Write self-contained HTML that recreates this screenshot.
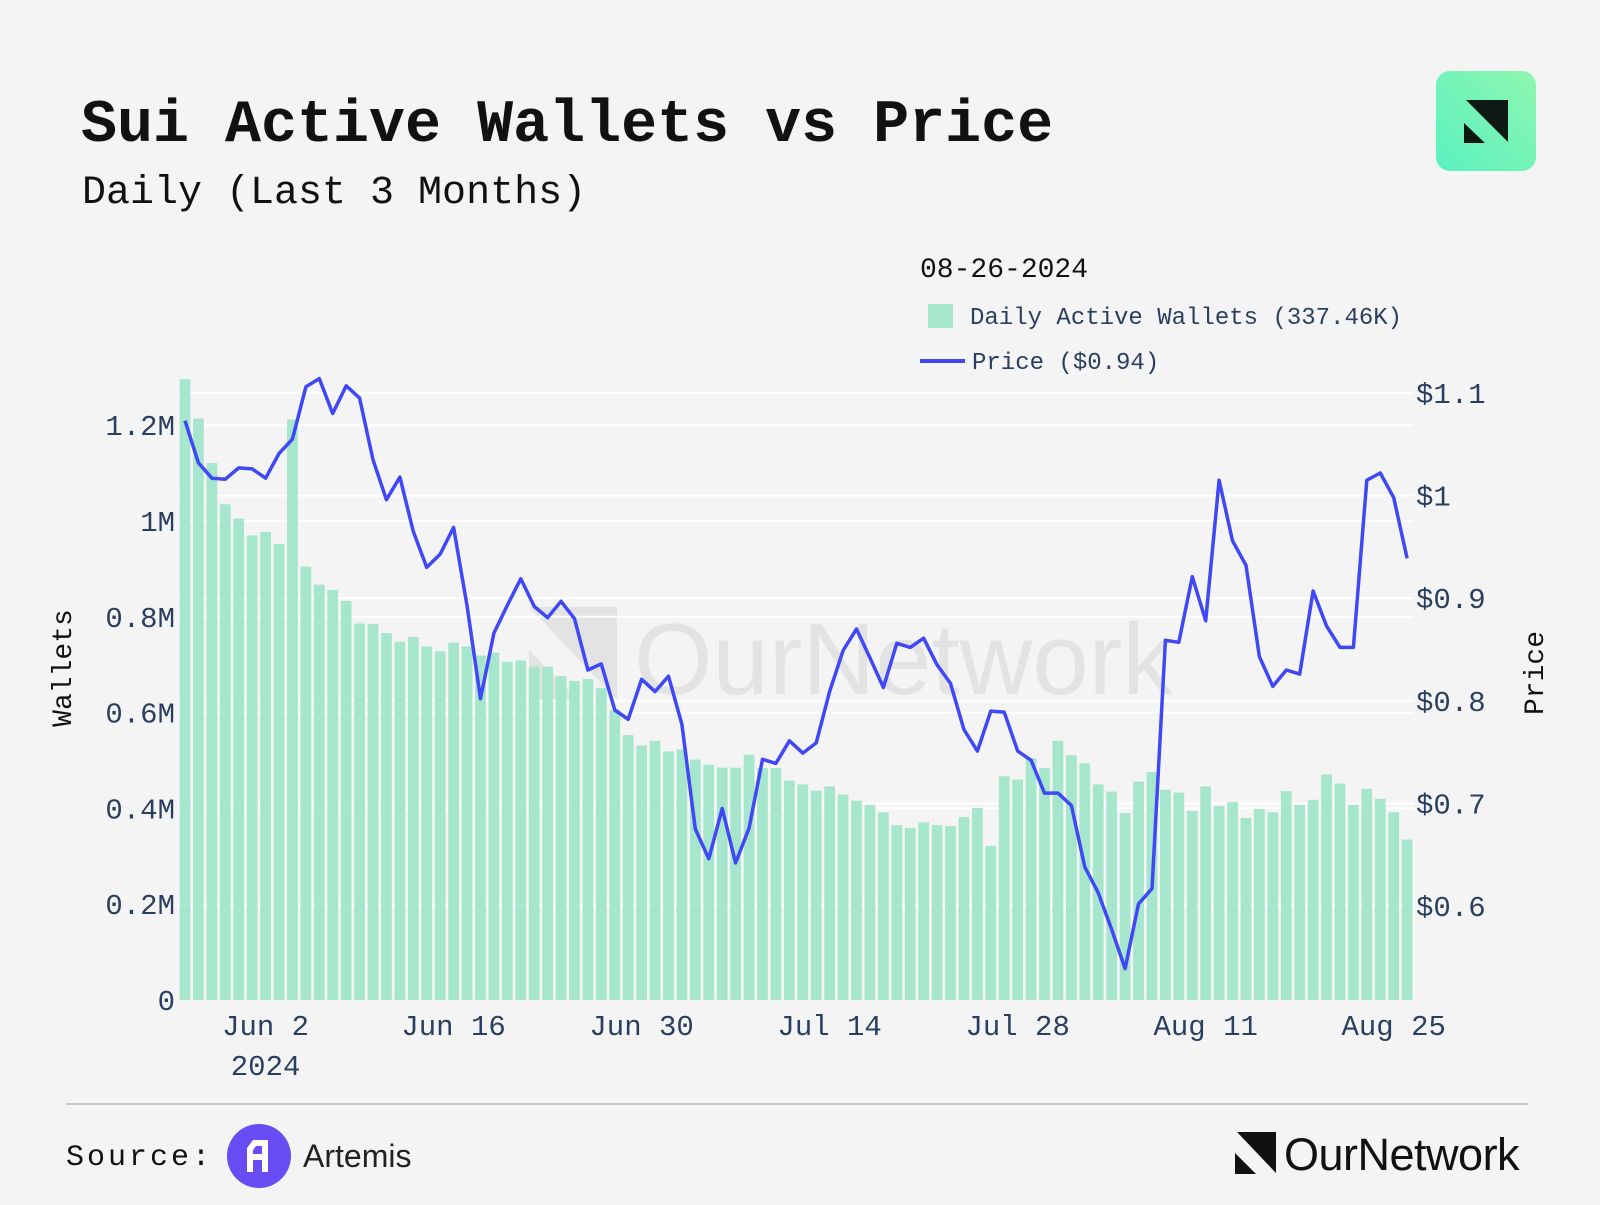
<!DOCTYPE html>
<html><head><meta charset="utf-8">
<style>
html,body{margin:0;padding:0;background:#f4f4f4;}
body{width:1600px;height:1200px;overflow:hidden;position:relative;font-family:"Liberation Mono",monospace;}
</style></head>
<body>
<svg id="chart" width="1600" height="1200" viewBox="0 0 1600 1200" xmlns="http://www.w3.org/2000/svg">
  <rect x="0" y="0" width="1600" height="1200" fill="#f4f4f4"/>
  <text x="81" y="141" font-family="Liberation Mono, monospace" font-weight="bold" font-size="60" fill="#111">Sui Active Wallets vs Price</text>
  <text x="82" y="203" font-family="Liberation Mono, monospace" font-size="40" fill="#111">Daily (Last 3 Months)</text>
  <defs>
    <linearGradient id="lg" x1="0" y1="1" x2="1" y2="0">
      <stop offset="0" stop-color="#5af0c0"/><stop offset="1" stop-color="#8ff7b0"/>
    </linearGradient>
  </defs>
  <g>
    <rect x="1436" y="71" width="100" height="100" rx="14" fill="url(#lg)"/>
    <polygon points="1466,100 1508,100 1508,142" fill="#0d1a14"/>
    <polygon points="1464,123 1464,143 1485,143" fill="#0d1a14"/>
  </g>
  <g id="watermark" opacity="0.9">
    <polygon points="529,607 617,607 617,700" fill="#e2e2e2"/>
    <polygon points="529,650 529,700 578,700" fill="#e2e2e2"/>
    <text x="634" y="694" font-family="Liberation Sans, sans-serif" font-size="101" fill="#e2e2e2">OurNetwork</text>
  </g>
  <g id="grid"></g>
  <g id="bars"></g>
  <path id="priceLine" fill="none" stroke="#3f48f4" stroke-width="3.5" stroke-linejoin="round"/>
  <g id="axes"></g>
  <g>
    <text x="920" y="277" font-size="28" fill="#111">08-26-2024</text>
    <rect x="928" y="304" width="25" height="24" fill="#a5e6cc"/>
    <text x="970" y="324" font-size="24" fill="#2a3f5f">Daily Active Wallets (337.46K)</text>
    <line x1="920" y1="361" x2="965" y2="361" stroke="#3f48f4" stroke-width="4"/>
    <text x="972" y="369" font-size="24" fill="#2a3f5f">Price ($0.94)</text>
  </g>
  <line x1="66" y1="1104" x2="1528" y2="1104" stroke="#c8c8c8" stroke-width="2"/>
  <text x="66" y="1165" font-size="30" letter-spacing="3" fill="#111">Source:</text>
  <g>
    <circle cx="259" cy="1156" r="32" fill="#6a4cf5"/>
    <path d="M247,1172 L247,1148 L253,1140 L268,1140 L268,1172 L262,1172 L262,1160 L253,1160 L253,1172 Z M253,1154 L262,1154 L262,1146 L256,1146 L253,1150 Z" fill="#fff" fill-rule="evenodd"/>
  </g>
  <text x="303" y="1167" font-family="Liberation Sans, sans-serif" font-size="32" fill="#222">Artemis</text>
  <g>
    <polygon points="1237,1132 1276,1132 1276,1173" fill="#111"/>
    <polygon points="1235,1153 1235,1174 1256,1174" fill="#111"/>
    <text x="1284" y="1170" font-family="Liberation Sans, sans-serif" font-size="45" fill="#111" letter-spacing="-0.5">OurNetwork</text>
  </g>
</svg>
<script>
const dayLabels = ["Jun 2","Jun 16","Jun 30","Jul 14","Jul 28","Aug 11","Aug 25"];
const dayLabelIndex = [6,20,34,48,62,76,90];
const walletTicks = [0,200000,400000,600000,800000,1000000,1200000];
const walletTickLabels = ["0","0.2M","0.4M","0.6M","0.8M","1M","1.2M"];
const priceTicks = [0.6,0.7,0.8,0.9,1.0,1.1];
const priceTickLabels = ["$0.6","$0.7","$0.8","$0.9","$1","$1.1"];
const wallets = [1.296,1.214,1.121,1.035,1.005,0.970,0.977,0.952,1.212,0.905,
0.867,0.856,0.833,0.786,0.785,0.766,0.748,0.758,0.738,0.728,
0.746,0.738,0.719,0.725,0.706,0.709,0.696,0.696,0.676,0.666,
0.670,0.651,0.605,0.553,0.531,0.541,0.519,0.523,0.502,0.491,
0.485,0.485,0.512,0.484,0.484,0.458,0.450,0.437,0.446,0.429,
0.416,0.407,0.392,0.365,0.359,0.371,0.365,0.363,0.382,0.401,
0.322,0.467,0.460,0.505,0.484,0.541,0.511,0.494,0.450,0.435,
0.390,0.456,0.476,0.439,0.433,0.395,0.446,0.405,0.413,0.380,
0.399,0.392,0.436,0.407,0.418,0.471,0.452,0.407,0.441,0.420,
0.392,0.335].map(v=>v*1e6);
const price = [1.073,1.032,1.017,1.016,1.027,1.026,1.017,1.041,1.055,1.106,
1.114,1.080,1.107,1.095,1.035,0.996,1.018,0.965,0.930,0.943,
0.969,0.893,0.802,0.866,0.893,0.919,0.892,0.881,0.897,0.880,
0.830,0.836,0.791,0.782,0.821,0.809,0.824,0.777,0.675,0.646,
0.695,0.642,0.676,0.743,0.739,0.761,0.749,0.759,0.809,0.849,
0.870,0.842,0.813,0.856,0.852,0.861,0.835,0.817,0.772,0.751,
0.790,0.789,0.751,0.742,0.710,0.710,0.698,0.638,0.613,0.577,
0.539,0.602,0.617,0.859,0.857,0.921,0.878,1.015,0.956,0.932,
0.843,0.814,0.830,0.826,0.907,0.873,0.852,0.852,1.015,1.022,
0.998,0.939];

const NS="http://www.w3.org/2000/svg";
const step=13.43, x0=185;
function xPos(i){return x0+i*step;}
function yWallet(v){return 1000-v/1e6*479;}
function yPrice(p){return 906-(p-0.6)*1026;}
function mk(tag,attrs,parent){const e=document.createElementNS(NS,tag);for(const k in attrs)e.setAttribute(k,attrs[k]);parent.appendChild(e);return e;}

const grid=document.getElementById('grid');
walletTicks.forEach((t,i)=>{if(t===0)return;
  const l=mk('line',{x1:178,x2:1414,y1:yWallet(t),y2:yWallet(t),stroke:'#ffffff','stroke-width':2},grid);
  
  
});
priceTicks.forEach(t=>{
  const l=mk('line',{x1:178,x2:1414,y1:yPrice(t),y2:yPrice(t),stroke:'#ffffff','stroke-width':2},grid);
  
  
});
const bars=document.getElementById('bars');
const bw=step*0.8;
wallets.forEach((v,i)=>{
  const r=mk('rect',{x:xPos(i)-bw/2,y:yWallet(v),width:bw,height:1000-yWallet(v),fill:'#a5e6cc'},bars);
  
  
});
document.getElementById('priceLine').setAttribute('d',price.map((p,i)=>(i?'L':'M')+xPos(i).toFixed(1)+','+yPrice(p).toFixed(1)).join(' '));

const axes=document.getElementById('axes');
walletTicks.forEach((t,i)=>{
  const tx=mk('text',{x:175,y:yWallet(t)+10,'text-anchor':'end','font-size':29,fill:'#2a3f5f'},axes);
  tx.textContent=walletTickLabels[i];
  
  
});
priceTicks.forEach((t,i)=>{
  const tx=mk('text',{x:1416,y:yPrice(t)+10,'font-size':29,fill:'#2a3f5f'},axes);
  tx.textContent=priceTickLabels[i];
  
  
});
dayLabelIndex.forEach((d,i)=>{
  const tx=mk('text',{x:xPos(d),y:1035,'text-anchor':'middle','font-size':29,fill:'#2a3f5f'},axes);
  tx.textContent=dayLabels[i];
  
  
});
const yr=mk('text',{x:xPos(6),y:1075,'text-anchor':'middle','font-size':29,fill:'#2a3f5f'},axes);
yr.textContent='2024';


const yt=mk('text',{x:0,y:0,transform:'translate(71,668) rotate(-90)','text-anchor':'middle','font-size':28,fill:'#111'},axes);
yt.textContent='Wallets';


const pt=mk('text',{x:0,y:0,transform:'translate(1543,673) rotate(-90)','text-anchor':'middle','font-size':28,fill:'#111'},axes);
pt.textContent='Price';


</script>
</body></html>
